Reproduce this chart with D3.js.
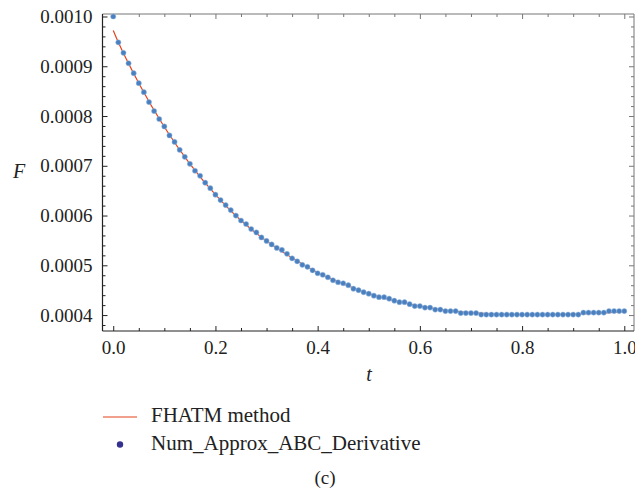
<!DOCTYPE html>
<html>
<head>
<meta charset="utf-8">
<script src="https://cdn.jsdelivr.net/npm/d3@7"></script>
<style>
  html, body { margin: 0; padding: 0; background: #fff; }
  svg { display: block; }
  text { font-family: "Liberation Serif", "Times New Roman", serif; fill: #222; }
</style>
</head>
<body>
<svg id="chart" width="635" height="491"></svg>
<script>
// ---- data ----
const tValues = [
  0.00,0.01,0.02,0.03,0.04,0.05,0.06,0.07,0.08,0.09,
  0.10,0.11,0.12,0.13,0.14,0.15,0.16,0.17,0.18,0.19,
  0.20,0.21,0.22,0.23,0.24,0.25,0.26,0.27,0.28,0.29,
  0.30,0.31,0.32,0.33,0.34,0.35,0.36,0.37,0.38,0.39,
  0.40,0.41,0.42,0.43,0.44,0.45,0.46,0.47,0.48,0.49,
  0.50,0.51,0.52,0.53,0.54,0.55,0.56,0.57,0.58,0.59,
  0.60,0.61,0.62,0.63,0.64,0.65,0.66,0.67,0.68,0.69,
  0.70,0.71,0.72,0.73,0.74,0.75,0.76,0.77,0.78,0.79,
  0.80,0.81,0.82,0.83,0.84,0.85,0.86,0.87,0.88,0.89,
  0.90,0.91,0.92,0.93,0.94,0.95,0.96,0.97,0.98,0.99,
  1.00
];
const numApproxValues = [
  0.001000,0.000948,0.000927,0.000906,0.000886,0.000866,0.000848,0.000828,0.000810,0.000794,
  0.000779,0.000761,0.000748,0.000732,0.000718,0.000704,0.000690,0.000680,0.000666,0.000655,
  0.000642,0.000631,0.000621,0.000611,0.000600,0.000590,0.000583,0.000573,0.000566,0.000556,
  0.000549,0.000542,0.000535,0.000531,0.000523,0.000514,0.000508,0.000501,0.000497,0.000490,
  0.000484,0.000481,0.000476,0.000470,0.000466,0.000464,0.000460,0.000453,0.000450,0.000446,
  0.000443,0.000439,0.000436,0.000436,0.000433,0.000429,0.000426,0.000426,0.000422,0.000418,
  0.000418,0.000415,0.000415,0.000411,0.000411,0.000408,0.000408,0.000408,0.000404,0.000404,
  0.000404,0.000404,0.000401,0.000401,0.000401,0.000401,0.000401,0.000401,0.000401,0.000401,
  0.000401,0.000401,0.000401,0.000401,0.000401,0.000401,0.000401,0.000401,0.000401,0.000401,
  0.000401,0.000401,0.000405,0.000405,0.000405,0.000405,0.000405,0.000408,0.000408,0.000408,
  0.000408
];
const fhatmT = [0.00,0.01,0.05,0.10,0.15,0.20,0.25,0.30,0.35,0.40,0.45,0.50,0.55,0.60,0.65,0.70,0.75,0.80,0.85,0.90,0.95,1.00];
const fhatmValues = [0.000972,0.000948,0.000866,0.000778,0.000704,0.000642,0.000590,0.000549,0.000515,0.000485,0.000463,0.000443,0.000429,0.000418,0.000410,0.000405,0.000402,0.000401,0.000401,0.000402,0.000404,0.000407];

const xMajorTicks = [0.0, 0.2, 0.4, 0.6, 0.8, 1.0];
const xMinorTicks = [0.05,0.10,0.15,0.25,0.30,0.35,0.45,0.50,0.55,0.65,0.70,0.75,0.85,0.90,0.95];
const yMajorTicks = [0.0004, 0.0005, 0.0006, 0.0007, 0.0008, 0.0009, 0.0010];
const yMinorTicks = [0.00038,
  0.00042,0.00044,0.00046,0.00048,
  0.00052,0.00054,0.00056,0.00058,
  0.00062,0.00064,0.00066,0.00068,
  0.00072,0.00074,0.00076,0.00078,
  0.00082,0.00084,0.00086,0.00088,
  0.00092,0.00094,0.00096,0.00098];
const xDomain = [-0.021, 1.019];
const yDomain = [0.000368, 0.001005];
const legendLabels = ["FHATM method", "Num_Approx_ABC_Derivative"];

// ---- layout ----
const plotLeft = 102.5, plotRight = 634, plotTop = 14, plotBottom = 331;
const svg = d3.select("#chart");
const x = d3.scaleLinear().domain(xDomain).range([plotLeft, plotRight]);
const y = d3.scaleLinear().domain(yDomain).range([plotBottom, plotTop]);

const lineColor = "#e4421f";
const dotColor = "#4a80c0";
const frameDark = "#222";
const frameLight = "#777";

// frame
svg.append("line").attr("x1", plotLeft).attr("x2", plotRight).attr("y1", plotTop).attr("y2", plotTop).attr("stroke", frameLight);
svg.append("line").attr("x1", plotRight).attr("x2", plotRight).attr("y1", plotTop).attr("y2", plotBottom).attr("stroke", frameLight);

function styleAxis(g, color) {
  g.select(".domain").remove();
  g.selectAll(".tick line").attr("stroke", color);
}

// bottom axis
const gB = svg.append("g").attr("transform", `translate(0,${plotBottom})`)
  .call(d3.axisBottom(x).tickValues(xMajorTicks).tickSize(-5).tickPadding(10).tickFormat(d3.format(".1f")));
styleAxis(gB, frameDark);
gB.selectAll("text").style("font-size", "19px").attr("fill", "#222");
svg.append("g").attr("transform", `translate(0,${plotBottom})`)
  .call(d3.axisBottom(x).tickValues(xMinorTicks).tickSize(-3).tickFormat(""))
  .call(g => styleAxis(g, frameDark));

// top axis
svg.append("g").attr("transform", `translate(0,${plotTop})`)
  .call(d3.axisTop(x).tickValues(xMajorTicks).tickSize(-5).tickFormat(""))
  .call(g => styleAxis(g, frameLight));
svg.append("g").attr("transform", `translate(0,${plotTop})`)
  .call(d3.axisTop(x).tickValues(xMinorTicks).tickSize(-3).tickFormat(""))
  .call(g => styleAxis(g, frameLight));

// left axis
const gL = svg.append("g").attr("transform", `translate(${plotLeft},0)`)
  .call(d3.axisLeft(y).tickValues(yMajorTicks).tickSize(-5).tickPadding(10).tickFormat(d3.format(".4f")));
styleAxis(gL, frameDark);
gL.selectAll("text").style("font-size", "19px").attr("fill", "#222");
svg.append("g").attr("transform", `translate(${plotLeft},0)`)
  .call(d3.axisLeft(y).tickValues(yMinorTicks).tickSize(-3).tickFormat(""))
  .call(g => styleAxis(g, frameDark));

// right axis
svg.append("g").attr("transform", `translate(${plotRight},0)`)
  .call(d3.axisRight(y).tickValues(yMajorTicks).tickSize(-5).tickFormat(""))
  .call(g => styleAxis(g, frameLight));
svg.append("g").attr("transform", `translate(${plotRight},0)`)
  .call(d3.axisRight(y).tickValues(yMinorTicks).tickSize(-3).tickFormat(""))
  .call(g => styleAxis(g, frameLight));

// dark frame lines left/bottom
svg.append("line").attr("x1", plotLeft).attr("x2", plotLeft).attr("y1", plotTop).attr("y2", plotBottom).attr("stroke", frameDark).attr("stroke-width", 1.2);
svg.append("line").attr("x1", plotLeft).attr("x2", plotRight).attr("y1", plotBottom).attr("y2", plotBottom).attr("stroke", frameDark).attr("stroke-width", 1.2);

// axis titles
svg.append("text").attr("x", 19).attr("y", 178).attr("text-anchor", "middle")
  .style("font-size", "20px").style("font-style", "italic").text("F");
svg.append("text").attr("x", 369).attr("y", 381).attr("text-anchor", "middle")
  .style("font-size", "20px").style("font-style", "italic").text("t");

// series
const fhatmData = fhatmT.map((t, i) => ({ t, v: fhatmValues[i] }));
const numData = tValues.map((t, i) => ({ t, v: numApproxValues[i] }));

svg.append("path").datum(fhatmData)
  .attr("fill", "none").attr("stroke", lineColor).attr("stroke-width", 1.2)
  .attr("d", d3.line().x(d => x(d.t)).y(d => y(d.v)).curve(d3.curveMonotoneX));

svg.append("g").selectAll("circle").data(numData).join("circle")
  .attr("cx", d => x(d.t)).attr("cy", d => y(d.v)).attr("r", 2.6)
  .attr("fill", dotColor).attr("stroke", "#9dbde2").attr("stroke-width", 0.6).attr("stroke-opacity", 0.8);

// legend
const lg = svg.append("g");
lg.append("line").attr("x1", 103).attr("x2", 137).attr("y1", 417).attr("y2", 417)
  .attr("stroke", lineColor).attr("stroke-width", 1.2);
lg.append("text").attr("x", 151).attr("y", 422).style("font-size", "21px").text(legendLabels[0]);
lg.append("circle").attr("cx", 120).attr("cy", 444.5).attr("r", 3.2).attr("fill", "#35318f");
lg.append("text").attr("x", 151).attr("y", 449.5).style("font-size", "21px").text(legendLabels[1]);

svg.append("text").attr("x", 325).attr("y", 484).attr("text-anchor", "middle")
  .style("font-size", "19px").text("(c)");
</script>
</body>
</html>
